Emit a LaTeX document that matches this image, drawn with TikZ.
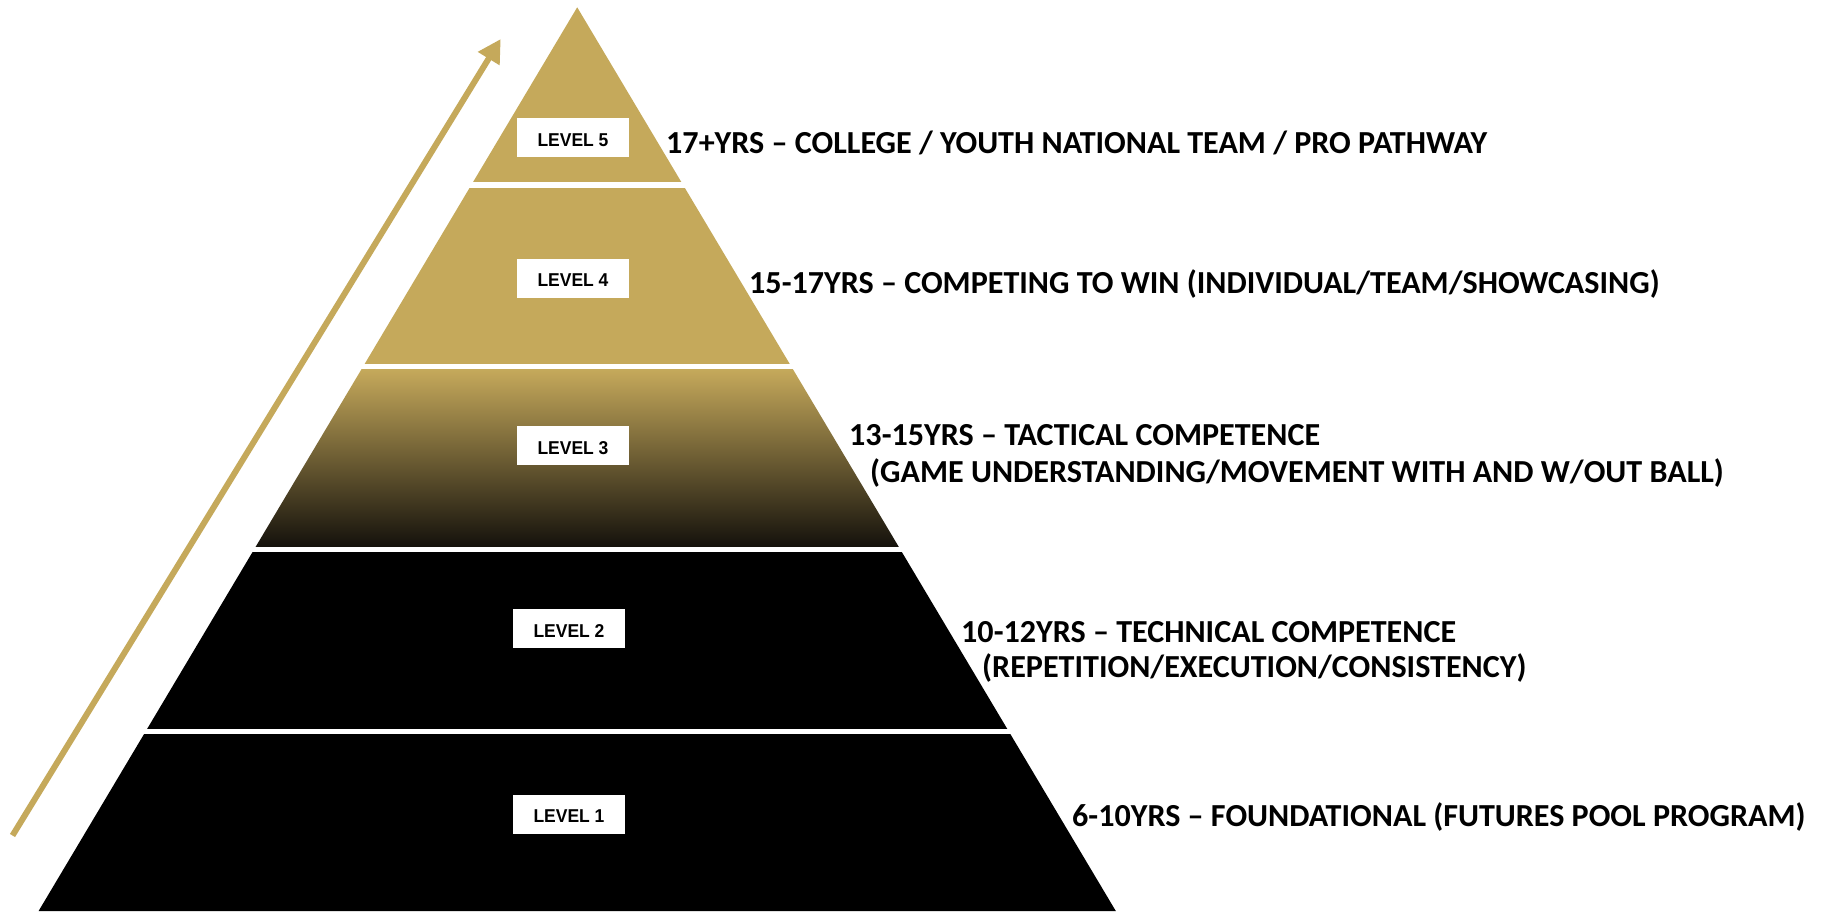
\documentclass[tikz,border=0pt]{standalone}
\usepackage{fontspec}
\setmainfont{Carlito}
\newfontfamily\boxfont[FakeStretch=0.94]{Liberation Sans}
\usetikzlibrary{arrows.meta}
\definecolor{gold}{HTML}{C5A95B}
\definecolor{darkend}{HTML}{15120C}
\begin{document}
\begin{tikzpicture}[x=1pt,y=-1pt,
  lvlbox/.style={fill=white,minimum width=112pt,minimum height=39pt,inner sep=0pt,
    text height=17.9pt,text depth=0pt,
    font=\boxfont\fontsize{18.6}{22}\selectfont\bfseries,text=black},
  desc/.style={anchor=base west,inner sep=0pt,font=\fontsize{32.1}{38}\selectfont\bfseries,text=black}]
\useasboundingbox (0,0) rectangle (1821,911);
% pyramid
\begin{scope}
  \clip (577.2,7.3) -- (1115.8,911) -- (38.6,911) -- cycle;
  \fill[gold] (0,0) rectangle (1821,182);
  \fill[gold] (0,187.5) rectangle (1821,364);
  \shade[top color=gold,bottom color=darkend] (0,369.5) rectangle (1821,546);
  \fill[black] (0,551.5) rectangle (1821,728.5);
  \fill[black] (0,734) rectangle (1821,912);
\end{scope}
% arrow
\coordinate (arrS) at (12.5,835.5);
\coordinate (arrE) at (500.7,39);
\draw[gold,line width=6pt,-{Triangle[length=23pt,width=24pt]}] (arrS) -- (arrE);
% level boxes
\node[lvlbox] (l5) at (573,137.2) {LEVEL 5};
\node[lvlbox] (l4) at (573,278) {LEVEL 4};
\node[lvlbox] (l3) at (573,445.4) {LEVEL 3};
\node[lvlbox] (l2) at (569,628.4) {LEVEL 2};
\node[lvlbox] (l1) at (569,814) {LEVEL 1};
% descriptions
\node[desc] (t5) at (666,153.3) {17+YRS – COLLEGE / YOUTH NATIONAL TEAM / PRO PATHWAY};
\node[desc] (t4) at (749,293.3) {15-17YRS – COMPETING TO WIN (INDIVIDUAL/TEAM/SHOWCASING)};
\node[desc] (t3a) at (849,445) {13-15YRS – TACTICAL COMPETENCE};
\node[desc] (t3b) at (870,482) {(GAME UNDERSTANDING/MOVEMENT WITH AND W/OUT BALL)};
\node[desc] (t2a) at (961,642.7) {10-12YRS – TECHNICAL COMPETENCE};
\node[desc] (t2b) at (982,677) {(REPETITION/EXECUTION/CONSISTENCY)};
\node[desc] (t1) at (1072,826) {6-10YRS – FOUNDATIONAL (FUTURES POOL PROGRAM)};
\end{tikzpicture}
\end{document}
